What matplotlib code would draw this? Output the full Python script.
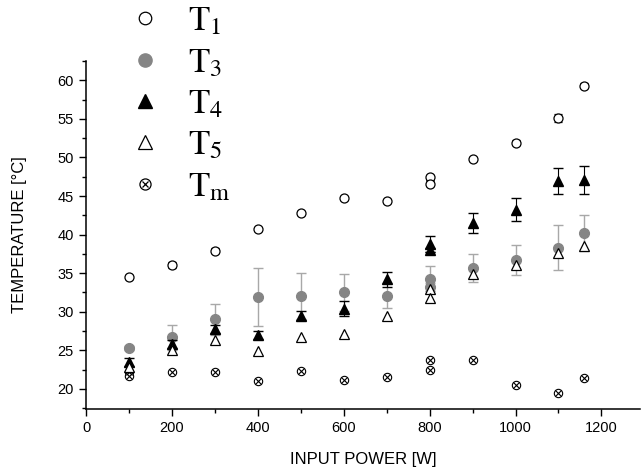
import numpy as np
import matplotlib.pyplot as plt
from matplotlib.lines import Line2D
from matplotlib.ticker import MultipleLocator

plt.rcParams['font.family'] = ['Liberation Sans', 'DejaVu Sans']
plt.rcParams['mathtext.fontset'] = 'stix'

# ─── Dados ───────────────────────────────────────────────────────────────────

potencia = [100, 200, 300, 400, 500, 600, 700, 800, 800, 900, 1000, 1100, 1160]

t1     = [34.5, 36.1, 37.9, 40.7, 42.8, 44.7, 44.3, 47.4, 46.6, 49.8, 51.9, 55.1, 59.3]
t1_err = [0.3, 0.4, 0.3, 0.2, 0.2, 0.2, 0.2, 0.3, 0.3, 0.2, 0.3, 0.5, 0.3]

t3     = [25.3, 26.7, 29.0, 31.9, 32.0, 32.5, 32.1, 34.3, 33.2, 35.7, 36.7, 38.3, 40.2]
t3_err = [0.3, 1.6, 2.0, 3.8, 3.0, 2.4, 1.6, 1.6, 0.5, 1.8, 2.0, 2.9, 2.3]

t4     = [23.5, 25.8, 27.8, 27.0, 29.5, 30.4, 34.2, 38.8, 38.0, 41.5, 43.2, 46.9, 47.1]
t4_err = [0.5, 0.5, 0.5, 0.5, 0.6, 1.0, 1.0, 1.0, 0.3, 1.3, 1.5, 1.7, 1.8]

t5 = [22.9, 25.0, 26.4, 24.9, 26.7, 27.1, 29.5, 32.9, 31.8, 34.9, 36.0, 37.6, 38.5]

tm_x = [100, 100, 200, 300, 400, 500, 600, 700, 800, 800, 900, 1000, 1100, 1160]
tm   = [22.2, 21.7, 22.2, 22.2, 21.0, 22.3, 21.1, 21.5, 23.7, 22.5, 23.7, 20.5, 19.5, 21.4]

rotulos = [r'$\mathrm{T}_1$', r'$\mathrm{T}_3$', r'$\mathrm{T}_4$',
           r'$\mathrm{T}_5$', r'$\mathrm{T}_\mathrm{m}$']

cinza = '#858585'
cinza_claro = '#a8a8a8'

# ─── Gráfico ─────────────────────────────────────────────────────────────────

fig = plt.figure(figsize=(6.42, 4.69), dpi=100)
ax = fig.add_axes([0.134, 0.128, 0.863, 0.742])

ms = 6.5
ax.errorbar(potencia, t1, yerr=t1_err, fmt='o', ms=ms, mfc='white', mec='black',
            mew=0.9, ecolor='black', elinewidth=0.8, capsize=3, zorder=3)
ax.errorbar(potencia, t3, yerr=t3_err, fmt='o', ms=ms + 0.5, mfc=cinza, mec=cinza,
            ecolor=cinza_claro, elinewidth=1.0, capsize=3.5, zorder=2)
ax.errorbar(potencia, t4, yerr=t4_err, fmt='^', ms=ms + 0.5, mfc='black', mec='black',
            ecolor='black', elinewidth=0.8, capsize=3.5, zorder=4)
ax.plot(potencia, t5, '^', ms=ms + 0.5, mfc='white', mec='black', mew=0.9, zorder=5)
# Tm: círculo com x
ax.plot(tm_x, tm, 'o', ms=ms - 0.5, mfc='white', mec='black', mew=0.8, zorder=3)
ax.plot(tm_x, tm, 'x', ms=ms - 2.2, color='black', mew=0.8, zorder=3)

ax.set_xlim(0, 1290)
ax.set_ylim(17.4, 62.5)
ax.xaxis.set_major_locator(MultipleLocator(200))
ax.xaxis.set_minor_locator(MultipleLocator(100))
ax.yaxis.set_major_locator(MultipleLocator(5))
ax.yaxis.set_minor_locator(MultipleLocator(2.5))
ax.tick_params(which='major', direction='out', length=5, width=1, labelsize=10.5, pad=4)
ax.tick_params(which='minor', direction='out', length=3, width=1)
for lado in ['top', 'right']:
    ax.spines[lado].set_visible(False)
for lado in ['left', 'bottom']:
    ax.spines[lado].set_linewidth(1.1)

ax.set_xlabel('INPUT POWER [W]', fontsize=12, labelpad=12)
ax.set_ylabel('TEMPERATURE [°C]', fontsize=12, labelpad=22)

# Legenda
alcas = [
    Line2D([], [], ls='none', marker='o', ms=9, mfc='white', mec='black', mew=0.9),
    Line2D([], [], ls='none', marker='o', ms=9.5, mfc=cinza, mec=cinza),
    Line2D([], [], ls='none', marker='^', ms=9.5, mfc='black', mec='black'),
    Line2D([], [], ls='none', marker='^', ms=9.5, mfc='white', mec='black', mew=0.9),
    (Line2D([], [], ls='none', marker='o', ms=8, mfc='white', mec='black', mew=0.9),
     Line2D([], [], ls='none', marker='x', ms=5, color='black', mew=0.9)),
]
fig.legend(alcas, rotulos, loc='upper left', bbox_to_anchor=(0.161, 1.035),
           frameon=False, fontsize=25, labelspacing=0.24, handletextpad=0.65,
           borderpad=0.1, handlelength=1.2)

plt.savefig('out.png', dpi=100)
